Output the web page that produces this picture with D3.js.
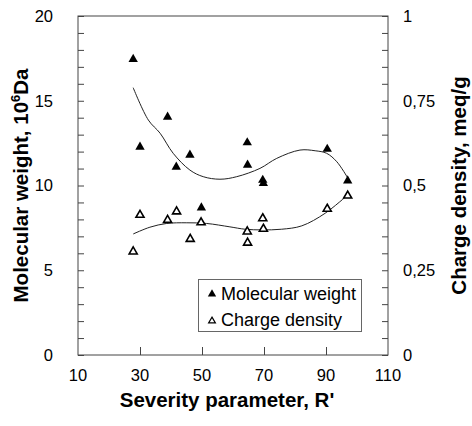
<!DOCTYPE html>
<html><head><meta charset="utf-8">
<script src="https://cdn.jsdelivr.net/npm/d3@7"></script>
<style>
body{margin:0;background:#fff;}
text{font-family:"Liberation Sans",Arial,sans-serif;}
</style></head>
<body>
<svg id="c" width="472" height="426"></svg>
<script>
// Data
const mwX = [27.8, 30.0, 38.9, 41.7, 46.1, 49.8, 64.6, 64.7, 69.6, 69.8, 90.4, 97.0];
const mwY = [17.45, 12.27, 14.04, 11.09, 11.8, 8.69, 12.53, 11.21, 10.32, 10.13, 12.15, 10.28];
const cdX = [27.8, 30.0, 38.9, 41.8, 46.2, 49.7, 64.6, 64.7, 69.6, 69.8, 90.4, 97.0];
const cdY = [0.305, 0.413, 0.398, 0.423, 0.342, 0.391, 0.364, 0.331, 0.403, 0.372, 0.431, 0.470];
// fitted trend curves
const mwFitX = [27.8, 32.7, 36.5, 40.7, 46.1, 50.4, 55.8, 61.2, 68.7, 74.1, 81.6, 86.5, 90.2, 93.5, 97.0];
const mwFitY = [15.77, 13.86, 13.08, 11.90, 10.91, 10.52, 10.37, 10.52, 11.01, 11.60, 12.09, 12.05, 11.90, 11.40, 10.45];
const cdFitX = [27.8, 33.2, 38.6, 45.1, 51.5, 59.0, 63.9, 69.3, 75.7, 82.2, 89.7, 97.0];
const cdFitY = [0.357, 0.377, 0.388, 0.390, 0.388, 0.378, 0.371, 0.369, 0.371, 0.381, 0.418, 0.472];
const xTicks = [10, 30, 50, 70, 90, 110];
const yLeftTicks = [0, 5, 10, 15, 20];
const yRightTicks = [0, 0.25, 0.5, 0.75, 1];
const yRightLabels = ["0", "0,25", "0,5", "0,75", "1"];
const legendLabels = ["Molecular weight", "Charge density"];

const svg = d3.select("#c");
const L = 78, R = 388, T = 16, B = 355;
const x = d3.scaleLinear().domain([10, 110]).range([L, R]);
const yL = d3.scaleLinear().domain([0, 20]).range([B, T]);
const yR = d3.scaleLinear().domain([0, 1]).range([B, T]);
const axisCol = "#444";
const titleSize = 20.5;

// frame
svg.append("rect").attr("x", L).attr("y", T).attr("width", R - L).attr("height", B - T)
  .attr("fill", "none").attr("stroke", axisCol).attr("stroke-width", 1);

// left axis ticks (inward)
const gL = svg.append("g").attr("transform", `translate(${L},0)`)
  .call(d3.axisRight(yL).tickValues(d3.range(0, 21, 1)).tickSize(6).tickFormat(""));
gL.select(".domain").remove();
gL.selectAll("line").attr("stroke", axisCol);
svg.append("g").selectAll("text").data(yLeftTicks).join("text")
  .attr("x", 53).attr("y", d => yL(d)).attr("dy", "0.35em").attr("text-anchor", "end")
  .attr("font-size", 16.5).text(d => d);

// right axis ticks (inward)
const gR = svg.append("g").attr("transform", `translate(${R},0)`)
  .call(d3.axisLeft(yR).tickValues(d3.range(0, 21, 1).map(d => d / 20)).tickSize(6).tickFormat(""));
gR.select(".domain").remove();
gR.selectAll("line").attr("stroke", axisCol);
svg.append("g").selectAll("text").data(yRightTicks).join("text")
  .attr("x", 403).attr("y", d => yR(d)).attr("dy", "0.35em").attr("text-anchor", "start")
  .attr("font-size", 16.5).text((d, i) => yRightLabels[i]);

// bottom axis ticks (inward)
const gB = svg.append("g").attr("transform", `translate(0,${B})`)
  .call(d3.axisTop(x).tickValues(xTicks.slice(1, -1)).tickSize(8).tickFormat(""));
gB.select(".domain").remove();
gB.selectAll("line").attr("stroke", axisCol);
svg.append("g").selectAll("text").data(xTicks).join("text")
  .attr("x", d => x(d)).attr("y", 381).attr("text-anchor", "middle")
  .attr("font-size", 16.5).text(d => d);

// titles
svg.append("text").attr("x", 227).attr("y", 407).attr("text-anchor", "middle")
  .attr("font-size", titleSize).attr("font-weight", "bold").text("Severity parameter, R'");
const tl = svg.append("text").attr("transform", `translate(28,${(T + B) / 2}) rotate(-90)`)
  .attr("text-anchor", "middle").attr("font-size", titleSize).attr("font-weight", "bold");
tl.append("tspan").text("Molecular weight, 10");
tl.append("tspan").attr("dy", -8).attr("font-size", 13).text("6");
tl.append("tspan").attr("dy", 8).text("Da");
svg.append("text").attr("transform", `translate(466,${(T + B) / 2}) rotate(-90)`)
  .attr("text-anchor", "middle").attr("font-size", titleSize).attr("font-weight", "bold")
  .text("Charge density, meq/g");

// curves
const lineMW = d3.line().x(d => x(d[0])).y(d => yL(d[1])).curve(d3.curveCatmullRom.alpha(0.5));
const lineCD = d3.line().x(d => x(d[0])).y(d => yR(d[1])).curve(d3.curveCatmullRom.alpha(0.5));
svg.append("path").attr("d", lineMW(d3.zip(mwFitX, mwFitY)))
  .attr("fill", "none").attr("stroke", "#222").attr("stroke-width", 1);
svg.append("path").attr("d", lineCD(d3.zip(cdFitX, cdFitY)))
  .attr("fill", "none").attr("stroke", "#222").attr("stroke-width", 1);

// markers
const triFill = d3.symbol().type(d3.symbolTriangle).size(38);
const triOpen = d3.symbol().type(d3.symbolTriangle).size(28);
svg.append("g").selectAll("path").data(d3.zip(mwX, mwY)).join("path")
  .attr("transform", d => `translate(${x(d[0])},${yL(d[1])})`)
  .attr("d", triFill()).attr("fill", "#000");
svg.append("g").selectAll("path").data(d3.zip(cdX, cdY)).join("path")
  .attr("transform", d => `translate(${x(d[0])},${yR(d[1])})`)
  .attr("d", triOpen()).attr("fill", "#fff").attr("stroke", "#000").attr("stroke-width", 1.6);

// legend
const lg = svg.append("g");
lg.append("rect").attr("x", 198.5).attr("y", 279.5).attr("width", 163).attr("height", 52)
  .attr("fill", "#fff").attr("stroke", "#666").attr("stroke-width", 1);
lg.append("path").attr("transform", "translate(212,294)")
  .attr("d", d3.symbol().type(d3.symbolTriangle).size(30)()).attr("fill", "#000");
lg.append("path").attr("transform", "translate(212,321)")
  .attr("d", d3.symbol().type(d3.symbolTriangle).size(20)()).attr("fill", "#fff")
  .attr("stroke", "#000").attr("stroke-width", 1.2);
lg.selectAll("text").data(legendLabels).join("text")
  .attr("x", 221).attr("y", (d, i) => 300 + i * 26).attr("font-size", 18).text(d => d);
</script>
</body></html>
